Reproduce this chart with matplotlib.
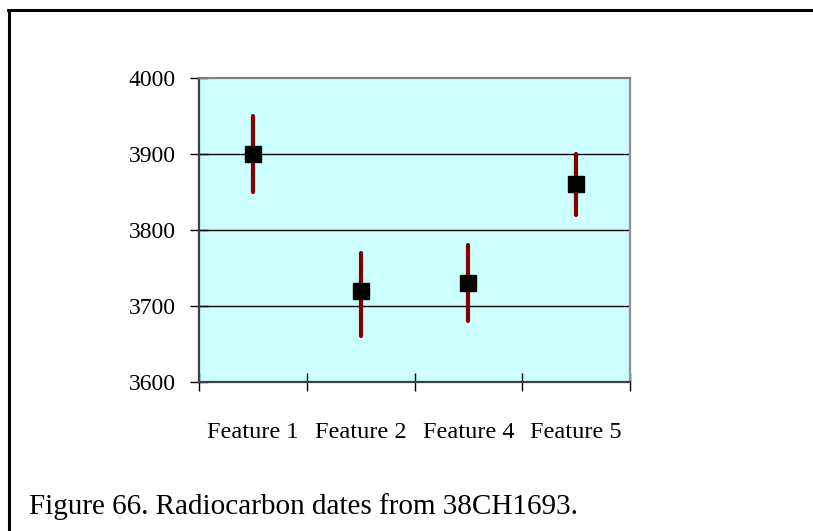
import matplotlib
matplotlib.use("Agg")
import matplotlib.pyplot as plt
from matplotlib.lines import Line2D

# Radiocarbon dates (years BP): one-sigma range and mean per feature
features = ["Feature 1", "Feature 2", "Feature 4", "Feature 5"]
date_high = [3950, 3770, 3780, 3900]
date_low = [3850, 3660, 3680, 3820]
date_mean = [3900, 3720, 3730, 3860]

y_ticks = [3600, 3700, 3800, 3900, 4000]

W, H, DPI = 813, 531, 100
plt.rcParams["font.family"] = ["Liberation Serif", "DejaVu Serif"]

fig = plt.figure(figsize=(W / DPI, H / DPI), dpi=DPI)
fig.patch.set_facecolor("white")

ax = fig.add_axes([199 / W, 1 - 382 / H, (630 - 199) / W, (382 - 78) / H])
ax.set_facecolor("#CCFFFF")

xs = list(range(len(features)))
ax.vlines(xs, date_low, date_high, color="#800000", linewidth=3.0,
          capstyle="round", zorder=3)
ax.plot(xs, date_mean, linestyle="none", marker="s", markersize=12,
        color="black", zorder=4)

ax.set_xlim(-0.5, len(features) - 0.5)
ax.set_ylim(y_ticks[0], y_ticks[-1])

# category boundaries carry the tick marks, names sit between them
ax.set_xticks([i - 0.5 for i in range(len(features) + 1)])
ax.set_xticklabels([])
ax.set_xticks(xs, minor=True)
ax.set_xticklabels(features, minor=True, fontsize=17.5)
ax.tick_params(axis="x", which="minor", length=0, pad=29)
ax.tick_params(axis="x", which="major", direction="inout", length=13,
               width=1, color="black")

ax.set_yticks(y_ticks)
ax.set_yticklabels([str(v) for v in y_ticks], fontsize=17)
ax.tick_params(axis="y", direction="inout", length=13, width=1,
               color="black", pad=10)

for v in y_ticks[1:-1]:
    ax.axhline(v, color="black", linewidth=1.0, zorder=1)

ax.spines["left"].set_color("#404040")
ax.spines["left"].set_linewidth(1.6)
ax.spines["bottom"].set_color("#404040")
ax.spines["bottom"].set_linewidth(1.6)
ax.spines["top"].set_color("#808080")
ax.spines["top"].set_linewidth(1.6)
ax.spines["right"].set_color("#909090")
ax.spines["right"].set_linewidth(1.6)

# page frame lines along the top and left edges
fig.add_artist(Line2D([8 / W, 1.0], [1 - 10 / H, 1 - 10 / H],
                      transform=fig.transFigure, color="black", linewidth=2.2))
fig.add_artist(Line2D([9 / W, 9 / W], [1 - 10 / H, 0.0],
                      transform=fig.transFigure, color="black", linewidth=2.2))

fig.text(29 / W, 1 - 514 / H, "Figure 66. Radiocarbon dates from 38CH1693.",
         fontsize=21, ha="left", va="baseline", color="black")

fig.savefig("out.png", dpi=DPI, facecolor="white")
